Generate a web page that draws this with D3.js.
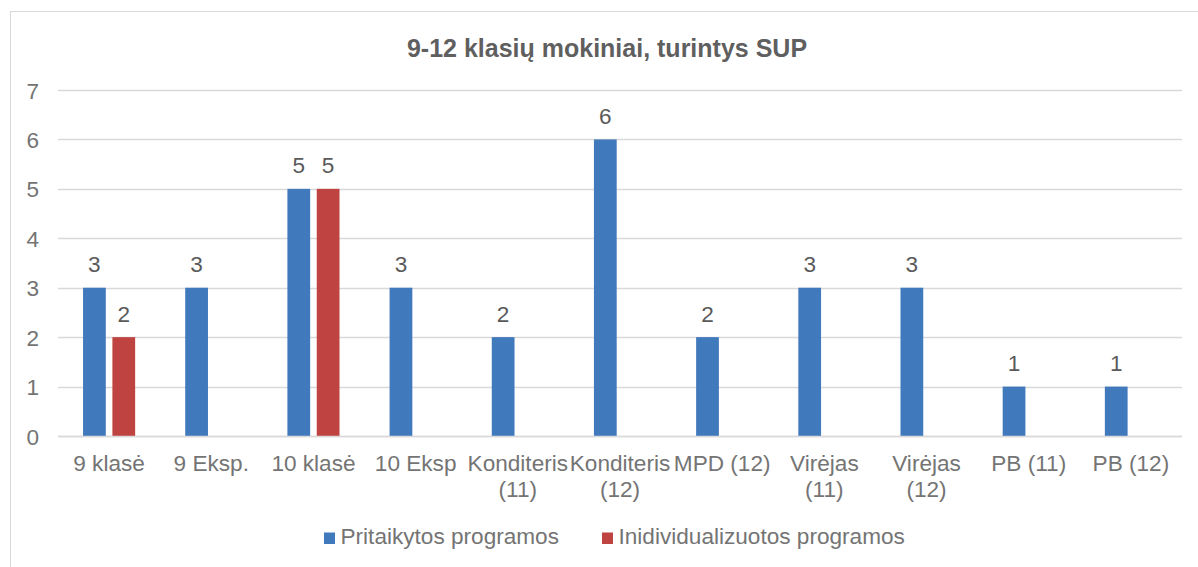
<!DOCTYPE html>
<html><head><meta charset="utf-8">
<script src="https://cdn.jsdelivr.net/npm/d3@7"></script>
<style>
body{margin:0;background:#fff;}
text{font-family:"Liberation Sans",Arial,sans-serif;}
</style></head>
<body><svg id="c" width="1198" height="567"></svg>
<script>
const categories = [["9 klasė"],["9 Eksp."],["10 klasė"],["10 Eksp"],["Konditeris","(11)"],["Konditeris","(12)"],["MPD (12)"],["Virėjas","(11)"],["Virėjas","(12)"],["PB (11)"],["PB (12)"]];
const seriesNames = ["Pritaikytos programos","Inidividualizuotos programos"];
const pritaikytos = [3,3,5,3,2,6,2,3,3,1,1];
const individualizuotos = [2,null,5,null,null,null,null,null,null,null,null];
const yTicks = [0,1,2,3,4,5,6,7];
const title = "9-12 klasių mokiniai, turintys SUP";
const colors = ["#4179bd","#bf4441"];

(function(){
const FS = "22.6px";
const AX = "#747474", LBL = "#5a5a5a";
const svg = d3.select("#c");
svg.append("rect").attr("x",10.5).attr("y",11.5).attr("width",1198).attr("height",600)
  .attr("fill","#fff").attr("stroke","#d9d9d9");

const pL=58,pR=1182,pT=90,pB=436;
const keys = categories.map((c,i)=>i);
const x0 = d3.scaleBand().domain(keys).range([pL,pR]).padding(0);
const bw = x0.bandwidth();
const x1 = d3.scaleBand().domain([0,1]).range([bw*0.245,bw*0.755]).paddingInner(0.225);
const y = d3.scaleLinear().domain([0,7]).range([pB,pT]);

// gridlines
svg.append("g").selectAll("line").data(yTicks).join("line")
  .attr("x1",pL).attr("x2",pR).attr("y1",d=>Math.round(y(d))+0.5).attr("y2",d=>Math.round(y(d))+0.5)
  .attr("stroke","#d9d9d9").attr("stroke-width",1.3);

// y axis labels
const yAxis = d3.axisLeft(y).tickValues(yTicks).tickFormat(d3.format("d")).tickSize(0).tickPadding(0);
const ya = svg.append("g").attr("transform",`translate(${pL-19},0)`).call(yAxis);
ya.select(".domain").remove();
ya.selectAll("text").attr("fill",AX).style("font-size",FS)
  .style("font-family","Liberation Sans, Arial, sans-serif").attr("dy","0.36em");

const data = [pritaikytos,individualizuotos];
const g = svg.append("g");
data.forEach((vals,s)=>{
  vals.forEach((v,i)=>{
    if(v==null) return;
    const xx = x0(i)+x1(s);
    g.append("rect").attr("x",xx).attr("y",y(v)).attr("width",x1.bandwidth()).attr("height",y(0)-y(v))
      .attr("fill",colors[s]);
    g.append("text").attr("x",xx+x1.bandwidth()/2).attr("y",y(v)-15.5)
      .attr("text-anchor","middle").attr("fill",LBL).style("font-size",FS).text(v);
  });
});

// axis baseline
svg.append("line").attr("x1",pL).attr("x2",pR).attr("y1",pB+0.5).attr("y2",pB+0.5)
  .attr("stroke","#d9d9d9").attr("stroke-width",1.3);

// category labels
const xa = svg.append("g");
categories.forEach((lines,i)=>{
  const t = xa.append("text").attr("x",x0(i)+bw/2).attr("y",471).attr("text-anchor","middle")
    .attr("fill",AX).style("font-size",FS);
  lines.forEach((l,j)=>t.append("tspan").attr("x",x0(i)+bw/2).attr("dy",j?26:0).text(l));
});

// title
svg.append("text").attr("x",607).attr("y",57).attr("text-anchor","middle").attr("fill","#5f5f5f")
  .style("font-size","25px").style("font-weight","bold").text(title);

// legend
const leg = svg.append("g");
const lx = [324,602];
seriesNames.forEach((n,i)=>{
  leg.append("rect").attr("x",lx[i]).attr("y",532.5).attr("width",11).attr("height",11.5).attr("fill",colors[i]);
  leg.append("text").attr("x",lx[i]+16.5).attr("y",544.3).attr("fill",AX).style("font-size",FS).text(n);
});
})();
</script></body></html>
